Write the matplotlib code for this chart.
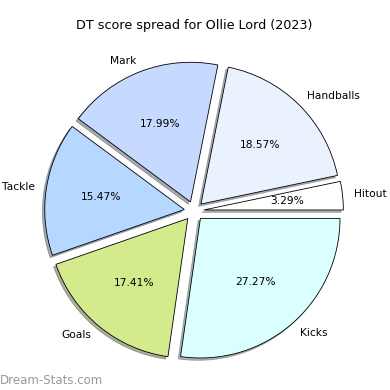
import matplotlib
matplotlib.use("Agg")
import matplotlib.pyplot as plt

# data
labels = ['Hitout', 'Handballs', 'Mark', 'Tackle', 'Goals', 'Kicks']
shares = [3.29, 18.57, 17.99, 15.47, 17.41, 27.27]
colors = ['#ffffff', '#eaf1ff', '#c6daff', '#b6d7ff', '#d3eb8c', '#daffff']
explode = [0.07] * len(labels)

fig = plt.figure(figsize=(3.9, 3.9), dpi=100)
ax = fig.add_axes([19.5 / 390, 4.5 / 390, 349 / 390, 349 / 390])
ax.pie(shares, labels=labels, colors=colors, explode=explode,
       autopct='%1.2f%%', startangle=0, labeldistance=1.085,
       shadow={'ox': -0.012, 'oy': -0.012, 'shade': 0.6},
       wedgeprops={'edgecolor': 'black', 'linewidth': 0.6},
       textprops={'fontsize': 7.7})
ax.set_title('DT score spread for Ollie Lord (2023)', fontsize=9.2, pad=5.5)

fig.text(0.0, 0.008, 'Dream-Stats.com', fontsize=8.5, color='#999999',
         ha='left', va='bottom')

fig.savefig('out.png', dpi=100)
